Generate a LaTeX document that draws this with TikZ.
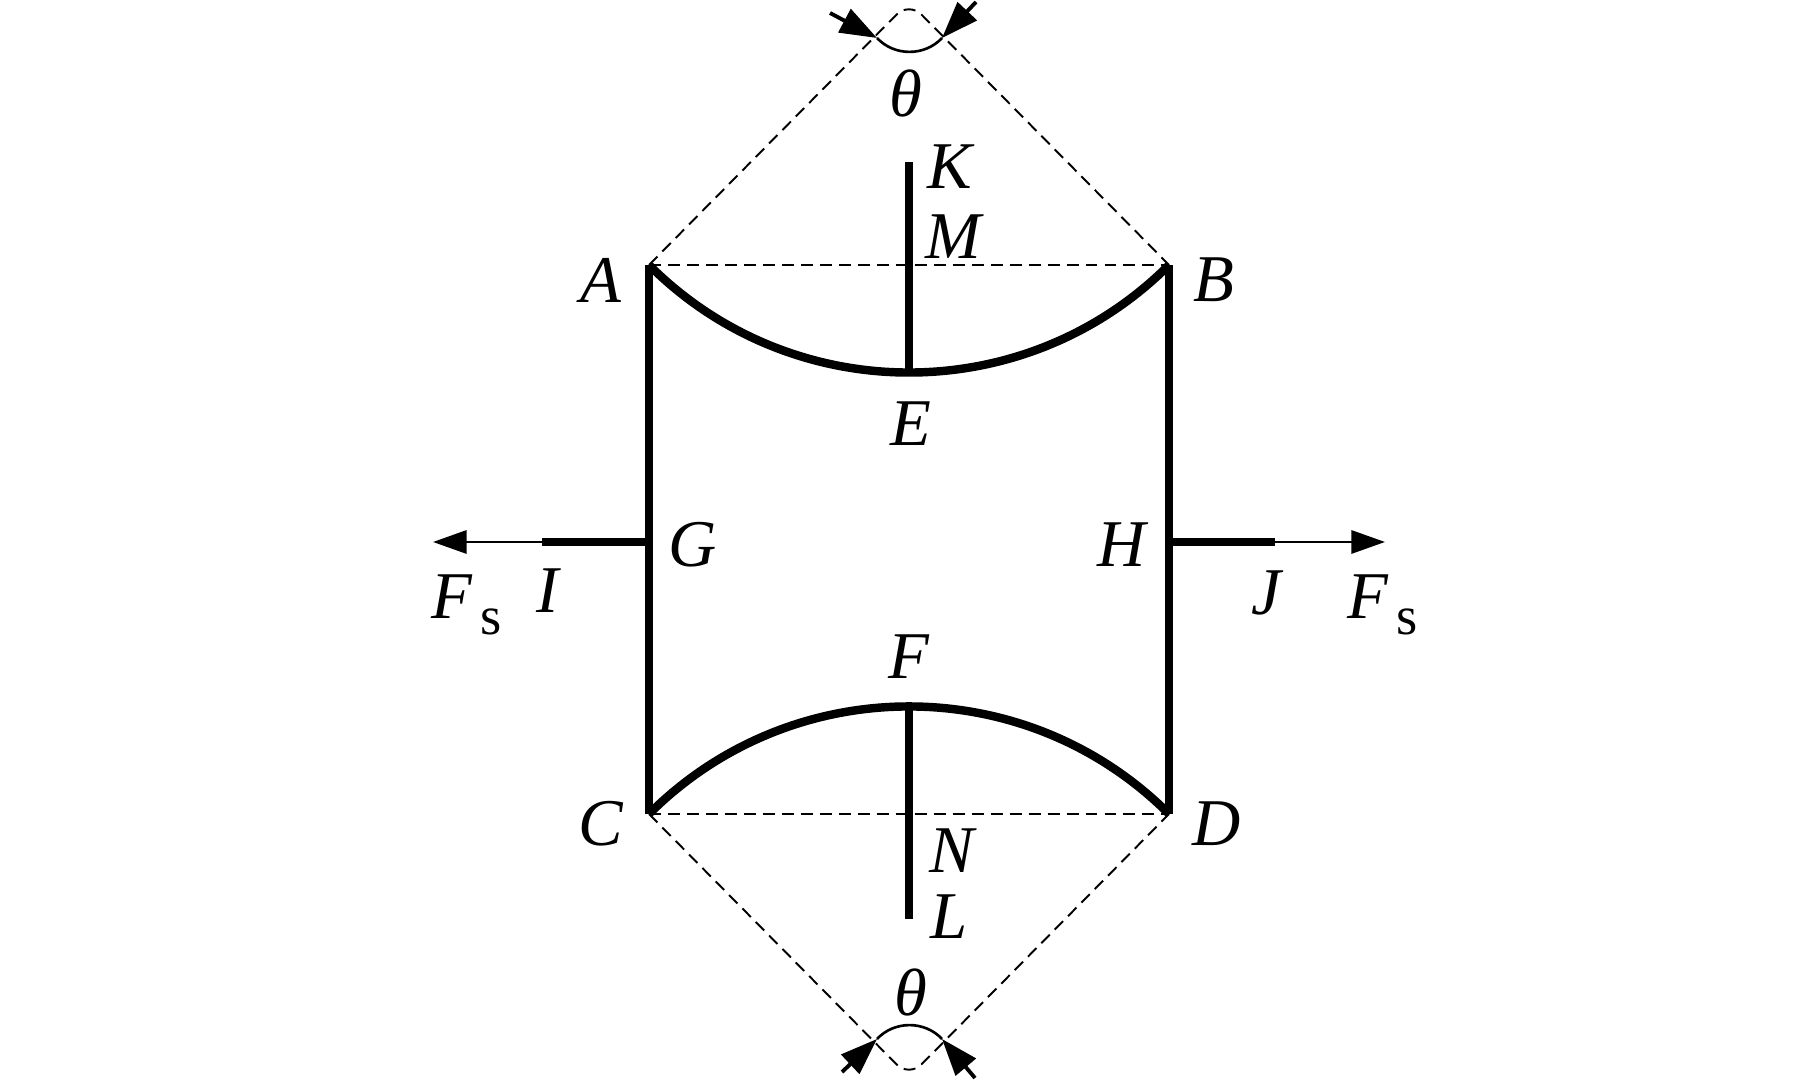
\documentclass[tikz,border=0pt]{standalone}
\usepackage{fontspec}
\setmainfont{Liberation Serif}
\usetikzlibrary{arrows.meta}

\tikzset{
  wall/.style={line width=2.4pt},
  stem/.style={line width=2.2pt},
  guide/.style={line width=0.55pt, dash pattern=on 3.4pt off 2pt},
  thin line/.style={line width=0.75pt},
  force/.style={line width=0.8pt, -{Triangle[length=9.6pt, width=6.6pt]}},
  pinch/.style={line width=1.1pt, -{Triangle[length=10.5pt, width=7.4pt]}},
  letter/.style={inner sep=0pt, font=\fontsize{19}{20}\selectfont\itshape}
}
\newcommand{\subs}{\textit{F}\hspace{2.2pt}\raisebox{-4.6pt}{\fontsize{15.5}{16}\selectfont s}}

\begin{document}
\begin{tikzpicture}
    \useasboundingbox (0, 0) rectangle (18.19, -10.81);

    \coordinate (A) at (6.49, -2.65);
    \coordinate (B) at (11.69, -2.65);
    \coordinate (C) at (6.49, -8.14);
    \coordinate (D) at (11.69, -8.14);
    \coordinate (Estem) at (9.09, -3.71);
    \coordinate (Fstem) at (9.09, -7.06);
    \coordinate (Kend) at (9.09, -1.62);
    \coordinate (Lend) at (9.09, -9.19);
    \coordinate (Gwall) at (6.49, -5.42);
    \coordinate (Hwall) at (11.69, -5.42);
    \coordinate (Iend) at (5.42, -5.42);
    \coordinate (Jend) at (12.75, -5.42);
    \coordinate (Fleft) at (4.33, -5.42);
    \coordinate (Fright) at (13.85, -5.42);
    \coordinate (apextop) at (9.09, -0.02);
    \coordinate (apexbot) at (9.09, -10.77);
    \coordinate (topl) at (8.77, -0.38);
    \coordinate (topr) at (9.42, -0.38);
    \coordinate (botl) at (8.77, -10.39);
    \coordinate (botr) at (9.42, -10.39);
    \coordinate (toplfrom) at (8.30, -0.13);
    \coordinate (toprfrom) at (9.76, -0.02);
    \coordinate (botlfrom) at (8.42, -10.72);
    \coordinate (botrfrom) at (9.75, -10.78);

    \node [letter] (labelA) at (6.01, -2.80) {A};
    \node [letter] (labelB) at (12.14, -2.80) {B};
    \node [letter] (labelC) at (6.01, -8.24) {C};
    \node [letter] (labelD) at (12.17, -8.24) {D};
    \node [letter] (labelE) at (9.11, -4.24) {E};
    \node [letter] (labelF) at (9.09, -6.57) {F};
    \node [letter] (labelG) at (6.93, -5.45) {G};
    \node [letter] (labelH) at (11.22, -5.45) {H};
    \node [letter] (labelI) at (5.48, -5.91) {I};
    \node [letter] (labelJ) at (12.66, -5.93) {J};
    \node [letter] (labelK) at (9.50, -1.67) {K};
    \node [letter] (labelM) at (9.53, -2.37) {M};
    \node [letter] (labelN) at (9.52, -8.51) {N};
    \node [letter] (labelL) at (9.49, -9.17) {L};
    \node [letter] (thetatop) at (9.06, -0.93) {θ};
    \node [letter] (thetabot) at (9.11, -9.92) {θ};
    \node [inner sep=0pt, font=\fontsize{19}{20}\selectfont] (forceL) at (4.67, -6.05) {\subs};
    \node [inner sep=0pt, font=\fontsize{19}{20}\selectfont] (forceR) at (13.83, -6.05) {\subs};

    % walls and end plates
    \draw [wall] (A) -- (C);
    \draw [wall] (B) -- (D);
    \draw [wall] (A) to [bend right=45] (B);
    \draw [wall] (C) to [bend left=45] (D);
    \draw [stem] (Kend) -- (Estem);
    \draw [stem] (Lend) -- (Fstem);
    \draw [wall] (Gwall) -- (Iend);
    \draw [wall] (Hwall) -- (Jend);
    \draw [force] (Iend) -- (Fleft);
    \draw [force] (Jend) -- (Fright);

    % construction lines
    \draw [guide] (A) -- (B);
    \draw [guide] (C) -- (D);
    \draw [guide, rounded corners=5pt] (A) -- (apextop) -- (B);
    \draw [guide, rounded corners=5pt] (C) -- (apexbot) -- (D);

    % angle marks
    \draw [thin line] (topl) to [bend right=47] (topr);
    \draw [thin line] (botl) to [bend left=47] (botr);
    \draw [pinch] (toplfrom) -- (topl);
    \draw [pinch] (toprfrom) -- (topr);
    \draw [pinch] (botlfrom) -- (botl);
    \draw [pinch] (botrfrom) -- (botr);
\end{tikzpicture}
\end{document}
